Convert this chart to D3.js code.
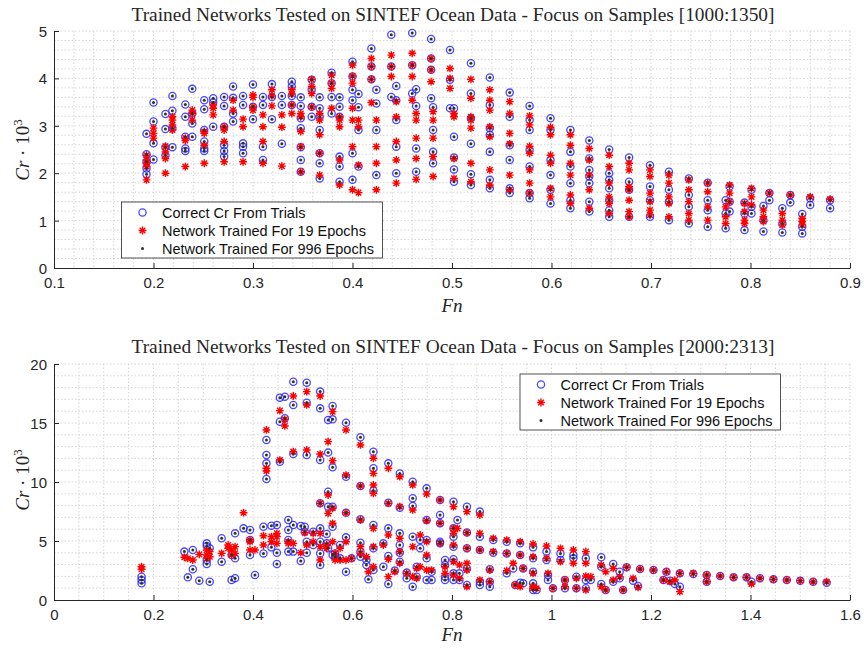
<!DOCTYPE html>
<html><head><meta charset="utf-8">
<script src="https://cdn.jsdelivr.net/npm/d3@7"></script>
<style>body{margin:0;background:#fff}svg{display:block}</style>
</head><body>
<svg id="chart" width="864" height="648"></svg>
<script>
// ---------------- DATA ----------------
// Top panel: samples [1000:1350]; each column = one Froude number with several Cr values
const topFn = [0.193,0.200,0.212,0.219,0.232,0.239,0.251,0.260,0.271,0.280,0.290,0.300,0.310,0.319,0.329,0.339,0.348,0.359,0.367,0.379,0.387,0.400,0.406,0.419,0.424,0.439,0.444,0.460,0.464,0.479,0.481,0.498,0.502,0.519,0.538,0.558,0.578,0.599,0.619,0.638,0.658,0.678,0.699,0.718,0.738,0.757,0.775,0.779,0.794,0.801,0.813,0.819,0.832,0.840,0.852,0.860,0.880];
const topTrialCr = [
 [2.83,2.40,2.24,2.10,1.98],[3.49,3.09,2.63,2.29],[3.25,2.93,2.54,2.38],[3.63,3.32,2.95,2.55],
 [3.45,3.19,2.77,2.52,2.47],[3.78,3.26,3.05,2.77],[3.54,3.35,2.91,2.67,2.52,2.47],[3.58,3.49,2.98],
 [3.61,3.42,2.98,2.59,2.47,2.35],[3.83,3.59,3.26,3.09],[3.63,3.44,2.63,2.56,2.42],[3.87,3.40,3.14],
 [3.61,3.44,2.56,2.28],[3.88,3.61,3.14],[3.63,3.44,2.62],[3.93,3.83,3.63,3.44],
 [3.60,3.42,3.16,2.95,2.55,2.28,2.03],[3.97,3.76,3.40,3.19],[3.60,3.37,3.19,2.91,2.42,2.21,1.89],[4.12,3.90,3.61,3.26],
 [3.60,3.40,3.19,2.35,2.14,1.82],[4.35,4.04,3.76,3.54,2.42,1.86],[3.67,3.39,2.91,2.14],[4.63,4.25,3.98],
 [3.76,3.47,2.91,1.96],[4.92,4.25,3.61],[3.84,3.54,3.12,2.56,2.00],[4.96,4.28,3.68],
 [3.77,3.42,2.52,2.03],[4.83,4.42,4.18,3.58],[3.39,2.91,2.45,2.21],[4.60,3.97,3.37],
 [3.37,2.77,2.33,2.08,1.82],[4.32,3.68,3.16,2.62,1.98,1.75],[4.02,3.44,2.95,2.81,2.45,1.86,1.68],[3.70,3.19,2.59,2.28,1.68,1.58],
 [3.42,3.12,2.91,2.49,2.14,1.58,1.47],[3.16,2.91,2.28,1.96,1.65,1.36],[2.91,2.45,2.14,1.79,1.43,1.26],[2.69,2.31,2.07,1.93,1.79,1.40,1.19],
 [2.50,2.00,1.86,1.68,1.43,1.22,1.08],[2.33,1.82,1.65,1.08],[2.17,1.72,1.43,1.08],[2.03,1.65,1.40,1.01],
 [1.89,1.54,1.29,0.94],[1.80,1.43,1.22,0.87],[1.43,1.15,0.84],[1.72,1.40,1.19],
 [1.38,1.15,0.80],[1.65,1.29,1.15],[1.31,1.01,0.77],[1.58,1.43],
 [1.26,0.94,0.75],[1.54,1.38],[1.14,0.87,0.73],[1.47,1.33],[1.43,1.26]
];
const top19Cr = [
 [2.38,2.28,2.21,2.14,1.86],[2.95,2.84,2.74],[2.57,2.45,2.31,2.00],[3.19,3.12,3.02,2.91],
 [2.74,2.69,2.14],[3.33,3.26,3.12],[2.88,2.84,2.59,2.21],[3.44,3.37,3.23],
 [2.98,2.91,2.67,2.24],[3.54,3.33],[3.14,2.98,2.24],[3.65,3.60,3.40,3.33],
 [3.23,2.98,2.67,2.21],[3.76,3.63,3.42],[3.23,2.97,2.15],[3.76,3.67,3.44,3.26],
 [3.26,3.19,2.88,2.56,2.03],[3.98,3.83,3.68,3.40],[3.26,3.12,2.81,2.42,1.96],[4.07,3.90,3.79,3.37],
 [3.19,3.12,2.98,2.28,1.75],[4.28,4.05,3.90,3.37,3.12,2.56,1.65],[3.12,2.98,2.17,1.59],[4.42,4.25,3.98,3.49],
 [3.12,2.56,2.21,1.65],[4.49,4.25,4.04],[3.51,3.19,2.67,2.28,1.79],[4.53,4.28,4.04,3.54],
 [3.26,3.12,2.74,2.31,1.87],[4.42,4.18,3.93],[3.30,3.12,2.74,2.35,1.93],[4.21,4.00,3.79],
 [3.26,3.19,2.31,1.89],[3.98,3.58,3.19,3.12,2.95,2.21,1.82],[3.76,3.54,3.33,2.98,2.77,2.07,1.75],[3.51,3.26,2.84,2.62,1.96,1.65],
 [3.21,3.02,2.57,2.42,2.07,1.79,1.58],[2.97,2.81,2.38,2.21,1.68,1.50],[2.81,2.59,2.21,1.96,1.54,1.36],[2.52,2.28,1.96,1.65,1.26],
 [2.38,2.14,1.79,1.50,1.36,1.15],[2.21,2.07,1.72,1.65,1.43,1.19,1.08],[2.07,1.93,1.58,1.40,1.22,1.12],[1.96,1.79,1.50,1.36,1.08],
 [1.86,1.65,1.40,1.15,1.01],[1.79,1.61,1.29,1.01],[1.29,1.08,0.94],[1.75,1.58,1.40],
 [1.36,1.19,1.01,0.94],[1.68,1.50,1.33],[1.22,1.08,0.98],[1.58],
 [1.15,1.01,0.91],[1.54],[1.05,0.98,0.91],[1.50],[1.45]
];
// the 996-epoch predictions lie on the trial values at this resolution
const top996Cr = topTrialCr;

// Bottom panel: samples [2000:2313]
const bottomFn = [0.176,0.262,0.269,0.279,0.292,0.307,0.313,0.337,0.350,0.357,0.364,0.381,0.394,0.404,0.421,0.427,0.437,0.448,0.454,0.464,0.471,0.481,0.496,0.504,0.508,0.521,0.535,0.548,0.551,0.560,0.565,0.575,0.587,0.598,0.616,0.628,0.632,0.642,0.662,0.672,0.685,0.695,0.709,0.721,0.729,0.736,0.749,0.759,0.776,0.786,0.803,0.811,0.815,0.830,0.856,0.876,0.883,0.910,0.923,0.927,0.937,0.943,0.963,0.970,0.990,0.993,1.003,1.018,1.027,1.044,1.050,1.069,1.079,1.100,1.109,1.124,1.137,1.144,1.151,1.164,1.174,1.178,1.205,1.225,1.231,1.238,1.248,1.258,1.285,1.312,1.339,1.366,1.392,1.402,1.419,1.446,1.473,1.500,1.526,1.553];
const bottomTrialCr = [
 [1.98,1.69,1.41],[4.10],[1.92],[4.24,2.60],[1.64],[4.80,4.58,3.39,3.05],[4.38,1.55],[5.23,3.25],[],[1.69,3.81],[5.65,1.84,3.53],[6.07],
 [5.93,5.08,3.81],[2.12],[6.21,3.95],[13.56,12.29,11.58,10.25],[6.30,4.46],[6.36,4.01,3.05],[17.15,15.11,11.72],[17.23,15.40],
 [6.78,5.93,5.08,4.10],[18.50,16.53,12.37,6.36,4.10],[6.27,3.31],[6.21,5.79],[18.42,16.72,12.29,4.94,4.01],[5.79,4.66],
 [17.66,16.24,11.86,8.19,6.07,4.94,3.95,2.97],[5.59,4.80],[15.25,12.49,9.18,7.91,4.38],[16.44,15.31,11.24,7.91,6.21,3.81],
 [3.95,3.67],[4.66,3.53],[15.03,10.45,7.40,5.31,2.40],[3.53],[13.79,9.66,6.84,4.86,4.10,3.67],[2.97,3.39],[1.75],
 [12.57,11.16,9.27,6.36,4.38,2.54],[4.80,2.82],[11.58,8.25,6.07,3.73,1.36],[2.49],[10.73,7.82,5.65,4.66,4.01,3.25],[2.32,1.84],
 [10.03,8.62,7.97,5.37,1.13],[2.82,1.98],[5.08,4.38],[9.46,6.78,5.08,3.53,1.69],[2.40,1.69],[8.47,7.20,6.50,4.94,4.80],
 [3.39,2.97,1.98,1.69],[8.33,6.07,5.37,4.52,3.45,2.26,1.69],[6.78],[2.26,1.69],[7.91,5.73,4.38,2.68,1.27],[7.49,5.37,4.24,1.55,1.27],
 [2.60,1.55,1.13],[5.08,4.01],[4.94,3.95,2.26],[2.68],[1.27],[4.80,3.81,1.47],[2.68,1.41],[4.46,3.53,2.40,1.41,0.85],[0.85],
 [4.10,3.39],[2.12,1.69],[0.99],[3.95,3.39],[1.69,0.99],[3.81,3.53],[1.98,0.99],[3.53,1.69,0.99],[1.69],[3.62,2.82,1.36],[0.85],
 [3.05,1.55],[2.40,1.84],[0.85],[2.77],[1.64],[1.19],[2.63],[2.54],[1.69],[2.40],[1.64],[1.36],[2.26,1.13],[2.20],[2.12,1.55],
 [2.03],[1.92],[1.92],[1.55],[1.84],[1.75],[1.69],[1.64],[1.55],[1.47]
];
const bottom19Cr = [
 [2.82,2.60],[3.62],[3.53],[3.39],[3.87],[4.24,3.81,3.53],[4.10,3.67],[3.95],[4.66,4.38],[4.24,3.81],[4.52,3.95],[7.40],
 [5.08,4.94,4.24],[4.24],[5.45,4.66],[14.41,11.16,10.93],[5.37,4.94],[5.65,5.37,4.80],[16.05,11.86],[15.31,14.75],
 [4.94,4.80],[17.29,12.57,4.80],[4.01],[5.71],[17.66,16.53,12.71,4.66],[5.65,4.94],
 [17.29,12.37,8.19,5.65,4.52,3.39],[4.66,4.38],[13.42,8.90,7.34],[15.96,11.81,7.77,6.50,4.94],
 [3.95,3.39],[4.38,3.39],[14.41,10.59,7.40,4.94,3.39],[3.53],[13.14,9.66,6.78,4.52,3.95],[3.67],[2.40],
 [12.01,10.73,9.75,9.04,6.07,4.52,2.82],[4.66],[11.16,8.19,5.51,3.45,1.98],[2.40],[10.45,7.91,5.23,4.10,3.11],[2.26],
 [9.75,7.63,4.52,1.98],[2.68,1.84],[5.51,2.82],[8.98,6.72,4.94,3.81,2.54],[2.54],[8.47,6.50,4.80],
 [2.82,2.26],[7.91,6.07,5.65,4.66,3.25,2.12],[6.07],[2.97,1.84],[7.49,5.71,4.38,3.11,2.54,1.13],[7.20,5.65,4.24,1.69],
 [2.54,1.55],[5.23,4.10],[5.08,3.95,2.49],[3.11],[1.27],[4.94,3.81,1.13],[2.68],[4.75,3.67,2.26,1.13,0.99],[0.99],
 [4.58,3.53],[2.26],[0.99],[4.38,3.25],[1.69,1.13],[4.24,3.11],[1.84,0.99],[4.10,3.11,2.03,0.85],[1.98],[2.97,1.13],[2.40,0.85],
 [2.68,1.69],[1.98],[0.85],[2.77],[1.84],[1.07],[2.63],[2.54],[1.69],[2.40],[1.55],[1.69],[2.26,0.71],[2.26],[2.12,1.55],
 [2.03],[1.92],[1.92],[1.36],[1.84],[1.75],[1.69],[1.64],[1.55],[1.55]
];
const bottom996Cr = bottomTrialCr;

const topXTicks = [0.1,0.2,0.3,0.4,0.5,0.6,0.7,0.8,0.9];
const topYTicks = [0,1,2,3,4,5];
const bottomXTicks = [0,0.2,0.4,0.6,0.8,1,1.2,1.4,1.6];
const bottomYTicks = [0,5,10,15,20];
const titles = ["Trained Networks Tested on SINTEF Ocean Data - Focus on Samples [1000:1350]",
                "Trained Networks Tested on SINTEF Ocean Data - Focus on Samples [2000:2313]"];
const legendLabels = ["Correct Cr From Trials","Network Trained For 19 Epochs","Network Trained For 996 Epochs"];

// ---------------- DRAWING ----------------
const svg = d3.select("#chart");
const AX = "#262626";
const SANS = "'Liberation Sans', Arial, Helvetica, sans-serif";
const SERIF = "'Liberation Serif', 'Times New Roman', serif";
const BLUE = "#1a1aff", RED = "#ff0000", DOT = "#303030";

function flatten(fns, crs){
  const pts = [];
  fns.forEach((f,i)=>crs[i].forEach(c=>pts.push([f,c])));
  return pts;
}
function starPath(s){
  const d = s*0.72;
  return `M${-s},0L${s},0M0,${-s}L0,${s}M${-d},${-d}L${d},${d}M${-d},${d}L${d},${-d}`;
}

const panels = [
  {title:titles[0], left:54, right:850, top:31, bottom:268, xDom:[0.1,0.9], yDom:[0,5],
   xTicks:topXTicks, yTicks:topYTicks, xMinor:0.02, yMinor:0.2,
   fmt:d3.format(".1f"), fn:topFn, trial:topTrialCr, n19:top19Cr, n996:top996Cr,
   legend:{x:121.5, y:202, w:261, h:56}, titleY:21, yLabelY:150, fnY:312},
  {title:titles[1], left:54, right:850, top:364, bottom:600, xDom:[0,1.6], yDom:[0,20],
   xTicks:bottomXTicks, yTicks:bottomYTicks, xMinor:0.05, yMinor:1,
   fmt:d=> (d===0||d===1)? String(d) : d3.format(".1f")(d), fn:bottomFn, trial:bottomTrialCr, n19:bottom19Cr, n996:bottom996Cr,
   legend:{x:520, y:374, w:260.5, h:56}, titleY:353, yLabelY:480, fnY:641}
];

panels.forEach(p=>{
  const x = d3.scaleLinear().domain(p.xDom).range([p.left,p.right]);
  const y = d3.scaleLinear().domain(p.yDom).range([p.bottom,p.top]);
  const g = svg.append("g");

  // grid (minor + major, dotted)
  const xg = d3.range(Math.round((p.xDom[1]-p.xDom[0])/p.xMinor)+1).map(i=>p.xDom[0]+i*p.xMinor);
  const yg = d3.range(Math.round((p.yDom[1]-p.yDom[0])/p.yMinor)+1).map(i=>p.yDom[0]+i*p.yMinor);
  const grid = g.append("g").attr("stroke","#cccccc").attr("stroke-width",0.8).attr("stroke-dasharray","1.5,2");
  grid.selectAll(".vx").data(xg.slice(1)).join("line")
    .attr("x1",d=>x(d)).attr("x2",d=>x(d)).attr("y1",p.top).attr("y2",p.bottom);
  grid.selectAll(".hy").data(yg.slice(1)).join("line")
    .attr("y1",d=>y(d)).attr("y2",d=>y(d)).attr("x1",p.left).attr("x2",p.right);

  // axes
  const xAxis = d3.axisBottom(x).tickValues(p.xTicks).tickFormat(p.fmt).tickSizeInner(-5).tickSizeOuter(0).tickPadding(6);
  const yAxis = d3.axisLeft(y).tickValues(p.yTicks).tickFormat(d3.format("d")).tickSizeInner(-5).tickSizeOuter(0).tickPadding(7);
  const gx = g.append("g").attr("transform",`translate(0,${p.bottom})`).call(xAxis);
  const gy = g.append("g").attr("transform",`translate(${p.left},0)`).call(yAxis);
  [gx,gy].forEach(a=>{
    a.select(".domain").attr("stroke",AX).attr("stroke-width",1);
    a.selectAll(".tick line").attr("stroke",AX).attr("stroke-width",1);
    a.selectAll(".tick text").attr("fill",AX).style("font-family",SANS).style("font-size","15px");
  });
  gx.selectAll(".tick text").attr("dy","0.95em");
  gy.selectAll(".tick text").attr("dy","0.36em");

  // data marks
  const trialPts = flatten(p.fn,p.trial);
  const pts19 = flatten(p.fn,p.n19);
  const pts996 = flatten(p.fn,p.n996);
  g.append("g").selectAll("circle").data(trialPts).join("circle")
    .attr("cx",d=>x(d[0])).attr("cy",d=>y(d[1])).attr("r",3.6)
    .attr("fill","none").attr("stroke",BLUE).attr("stroke-width",1.3).attr("stroke-opacity",0.8);
  g.append("g").selectAll("path").data(pts19).join("path")
    .attr("transform",d=>`translate(${x(d[0])},${y(d[1])})`).attr("d",starPath(3.9))
    .attr("fill","none").attr("stroke",RED).attr("stroke-width",1.4);
  g.append("g").selectAll("circle").data(pts996).join("circle")
    .attr("cx",d=>x(d[0])).attr("cy",d=>y(d[1])).attr("r",1.5)
    .attr("fill",DOT);

  // title
  g.append("text").attr("x",(p.left+p.right)/2+1).attr("y",p.titleY)
    .attr("text-anchor","middle").attr("fill",AX)
    .style("font-family",SERIF).style("font-size","18.5px")
    .attr("textLength",643).attr("lengthAdjust","spacingAndGlyphs")
    .text(p.title);

  // y label
  const yl = g.append("text").attr("transform",`translate(29,${p.yLabelY}) rotate(-90)`)
    .attr("text-anchor","middle").attr("fill",AX)
    .style("font-family",SERIF).style("font-size","19px");
  yl.append("tspan").style("font-style","italic").text("Cr");
  yl.append("tspan").text(" · 10");
  yl.append("tspan").attr("dy",-7).style("font-size","13px").text("3");

  // x label
  g.append("text").attr("x",(p.left+p.right)/2).attr("y",p.fnY)
    .attr("text-anchor","middle").attr("fill",AX)
    .style("font-family",SERIF).style("font-size","19px").style("font-style","italic").text("Fn");

  // legend
  const L = p.legend;
  const lg = g.append("g");
  lg.append("rect").attr("x",L.x).attr("y",L.y).attr("width",L.w).attr("height",L.h)
    .attr("fill","#fff").attr("stroke",AX).attr("stroke-width",0.8);
  const rows = [L.y+10.5, L.y+28.5, L.y+46.5];
  const mx = L.x+21;
  lg.append("circle").attr("cx",mx).attr("cy",rows[0]).attr("r",3.6)
    .attr("fill","none").attr("stroke",BLUE).attr("stroke-width",1.3).attr("stroke-opacity",0.8);
  lg.append("path").attr("transform",`translate(${mx},${rows[1]})`).attr("d",starPath(3.9))
    .attr("fill","none").attr("stroke",RED).attr("stroke-width",1.4);
  lg.append("circle").attr("cx",mx).attr("cy",rows[2]).attr("r",1.5).attr("fill",DOT);
  legendLabels.forEach((t,i)=>{
    lg.append("text").attr("x",L.x+40.5).attr("y",rows[i]).attr("dy","0.36em")
      .attr("fill","#111").style("font-family",SANS).style("font-size","14.5px").text(t);
  });
});
</script>
</body></html>
